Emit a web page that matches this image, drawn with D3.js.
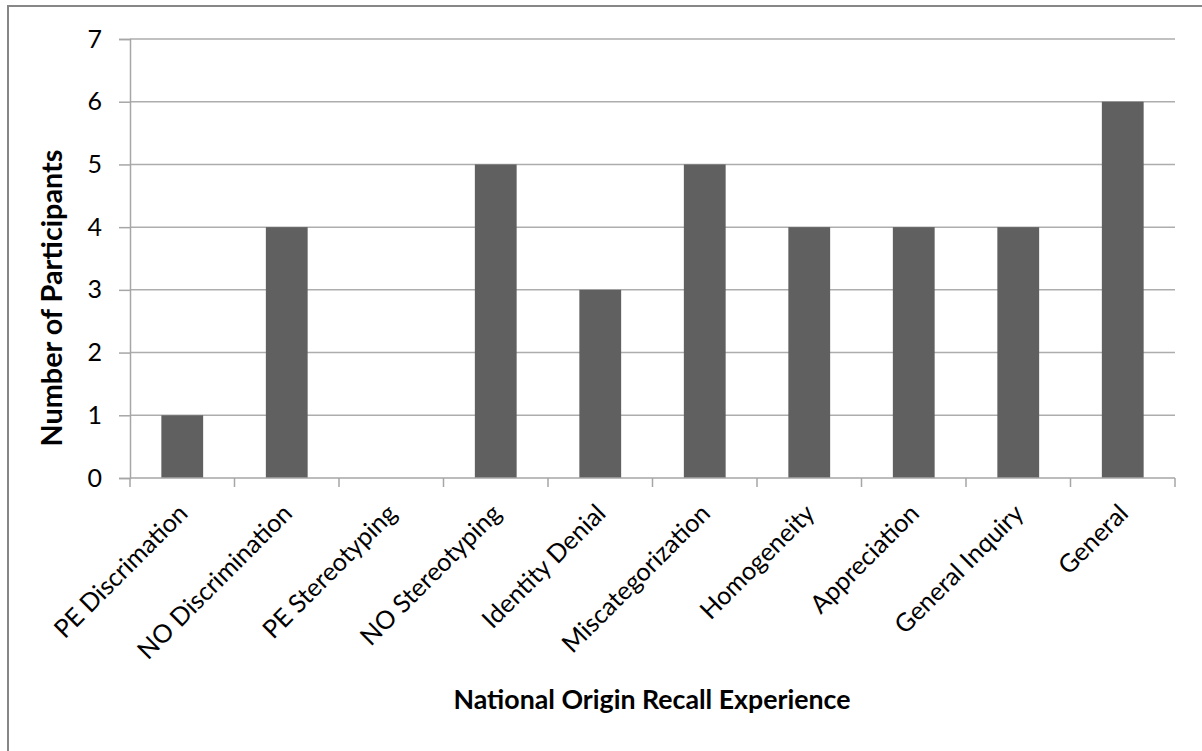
<!DOCTYPE html>
<html>
<head>
<meta charset="utf-8">
<script src="https://cdn.jsdelivr.net/npm/d3@7"></script>
<style>
  html, body { margin: 0; padding: 0; background: #ffffff; }
  svg { display: block; }
  text { font-family: Lato, "Open Sans", sans-serif; fill: #000; }
</style>
</head>
<body>
<svg id="chart" width="1202" height="751"></svg>
<script>
// Recall experience categories and participant counts
const categories = [
  "PE Discrimation", "NO Discrimination", "PE Stereotyping", "NO Stereotyping",
  "Identity Denial", "Miscategorization", "Homogeneity", "Appreciation",
  "General Inquiry", "General"
];
const participants = [1, 4, 0, 5, 3, 5, 4, 4, 4, 6];
const yTicks = [0, 1, 2, 3, 4, 5, 6, 7];
const xTitle = "National Origin Recall Experience";
const yTitle = "Number of Participants";

const W = 1202, H = 751;
const plot = { left: 130, right: 1175, top: 39, bottom: 478 };

const svg = d3.select("#chart");

// Scale a text element's font so that it spans the given length
function fitLength(sel, target) {
  const node = sel.node();
  const size = parseFloat(sel.style("font-size"));
  const len = node.getComputedTextLength();
  if (len > 0) sel.style("font-size", (size * target / len).toFixed(2) + "px");
  return size * target / len;
}

// Outer chart border
svg.append("rect")
  .attr("x", 8).attr("y", 6)
  .attr("width", W + 10).attr("height", H + 10)
  .attr("fill", "#fff")
  .attr("stroke", "#878787").attr("stroke-width", 2);

const x = d3.scaleBand()
  .domain(categories)
  .range([plot.left, plot.right])
  .paddingInner(0.6).paddingOuter(0.3);

const xTickScale = d3.scaleBand().domain(categories).range([plot.left, plot.right]);

const y = d3.scaleLinear().domain([0, 7]).range([plot.bottom, plot.top]);

// Horizontal gridlines
svg.append("g")
  .selectAll("line")
  .data(yTicks.filter(d => d > 0))
  .join("line")
  .attr("x1", plot.left).attr("x2", plot.right)
  .attr("y1", d => y(d)).attr("y2", d => y(d))
  .attr("stroke", "#adadad").attr("stroke-width", 1.5);

// Bars
svg.append("g")
  .selectAll("rect")
  .data(categories.map((c, i) => ({ c, v: participants[i] })))
  .join("rect")
  .attr("x", d => x(d.c))
  .attr("width", x.bandwidth())
  .attr("y", d => y(d.v))
  .attr("height", d => y(0) - y(d.v))
  .attr("fill", "#606060");

// Y axis
const yAxis = svg.append("g")
  .attr("transform", `translate(${plot.left},0)`)
  .call(d3.axisLeft(y).tickValues(yTicks).tickSize(11).tickPadding(17).tickFormat(d3.format("d")));
yAxis.select(".domain").attr("stroke", "#a6a6a6").attr("stroke-width", 1.5);
yAxis.selectAll(".tick line").attr("stroke", "#a6a6a6").attr("stroke-width", 1.5);
yAxis.selectAll(".tick text")
  .style("font-family", "Lato, sans-serif")
  .style("font-size", "25px")
  .attr("fill", "#1a1a1a");

// X axis baseline and category dividers
const xAxisG = svg.append("g").attr("transform", `translate(0,${plot.bottom})`);
xAxisG.append("line")
  .attr("x1", plot.left).attr("x2", plot.right)
  .attr("stroke", "#a6a6a6").attr("stroke-width", 1.5);
const boundaries = categories.map(c => xTickScale(c)).concat([plot.right]);
xAxisG.selectAll("line.div")
  .data(boundaries)
  .join("line")
  .attr("class", "div")
  .attr("x1", d => d).attr("x2", d => d)
  .attr("y1", 0).attr("y2", 9)
  .attr("stroke", "#a6a6a6").attr("stroke-width", 1.5);

// Rotated category labels
const labels = svg.append("g")
  .selectAll("text")
  .data(categories)
  .join("text")
  .attr("transform", d => `translate(${x(d) + x.bandwidth() / 2 + 7},${plot.bottom + 37}) rotate(-45)`)
  .attr("text-anchor", "end")
  .style("font-size", "21px")
  .attr("fill", "#1a1a1a")
  .text(d => d);
// size all labels from the span of the longer one
const refLabel = labels.filter(d => d === "NO Discrimination");
const labelSize = fitLength(refLabel, 206);
labels.style("font-size", labelSize.toFixed(2) + "px");

// Axis titles
const xt = svg.append("text")
  .attr("x", 652).attr("y", 709)
  .attr("text-anchor", "middle")
  .style("font-size", "22px").style("font-weight", "bold")
  .text(xTitle);
fitLength(xt, 397);

const yt = svg.append("text")
  .attr("transform", "translate(62,298) rotate(-90)")
  .attr("text-anchor", "middle")
  .style("font-size", "22px").style("font-weight", "bold")
  .text(yTitle);
fitLength(yt, 297);
</script>
</body>
</html>
